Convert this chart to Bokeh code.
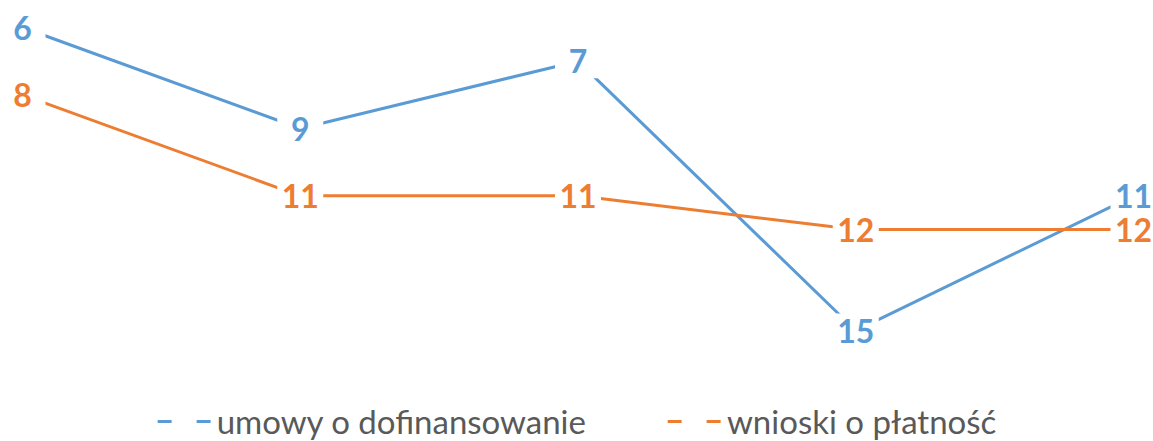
from bokeh.plotting import figure
from bokeh.models import ColumnDataSource, Range1d, Legend, LegendItem
from bokeh.core.properties import value
from bokeh.embed import file_html
from bokeh.resources import INLINE

# ---- data ----
positions = [0, 1, 2, 3, 4]
umowy = [6, 9, 7, 15, 11]
wnioski = [8, 11, 11, 12, 12]
series_names = ["umowy o dofinansowanie", "wnioski o płatność"]
colors = ["#5B9BD5", "#ED7D31"]

p = figure(width=1153, height=441, output_backend="svg", toolbar_location=None,
           x_range=Range1d(-0.0792, 4.0720), y_range=Range1d(18.296, 5.198),
           min_border=0)
p.xaxis.visible = False
p.yaxis.visible = False
p.xgrid.visible = False
p.ygrid.visible = False
p.outline_line_color = None

sources = []
for vals in (umowy, wnioski):
    src = ColumnDataSource(dict(x=positions, y=vals, t=[str(v) for v in vals]))
    sources.append(src)

for src, c in zip(sources, colors):
    p.line("x", "y", source=src, line_color=c, line_width=3)

for src in sources:
    p.rect("x", "y", source=src, width=46, height=34, width_units="screen",
           height_units="screen", fill_color="white", line_color=None)

for src, c in zip(sources, colors):
    p.text("x", "y", text="t", source=src, text_align="center", text_baseline="middle",
           text_font=value("Lato"), text_font_style="bold", text_font_size="32px",
           text_color=c)

items = []
for name, c in zip(series_names, colors):
    r = p.line(x=[float("nan")], y=[float("nan")], line_color=c, line_width=3,
               line_dash="14 25")
    items.append(LegendItem(label=name, renderers=[r]))

legend = Legend(items=items, orientation="horizontal", location="bottom_center",
                glyph_width=55, glyph_height=28, label_standoff=5, spacing=81,
                label_text_font="Lato", label_text_font_size="33px",
                label_text_color="#595959", border_line_color=None,
                background_fill_alpha=0, padding=0, margin=0, label_height=28)
p.add_layout(legend, "center")

open("out.html", "w").write(file_html(p, INLINE))
